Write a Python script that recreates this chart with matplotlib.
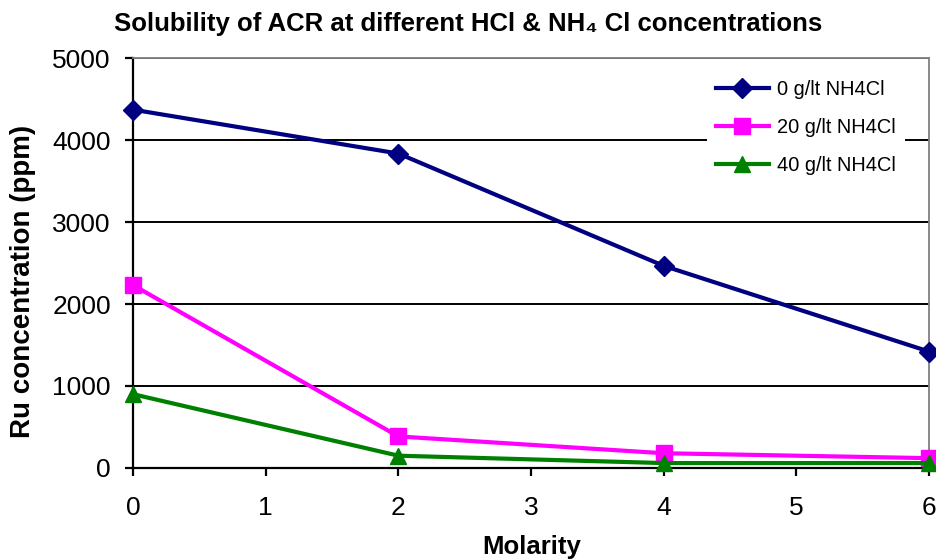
import matplotlib.pyplot as plt

plt.rcParams['font.family'] = ['Liberation Sans', 'DejaVu Sans']

molarity = [0, 2, 4, 6]
ru_0g = [4370, 3835, 2465, 1420]
ru_20g = [2230, 385, 180, 120]
ru_40g = [900, 150, 60, 60]
labels = ['0 g/lt NH4Cl', '20 g/lt NH4Cl', '40 g/lt NH4Cl']

fig = plt.figure(figsize=(9.37, 5.6), dpi=100)
ax = fig.add_axes([0.142, 0.1643, 0.8495, 0.7321])

ax.plot(molarity, ru_0g, color='#000080', lw=3, marker='D', ms=10,
        label=labels[0], clip_on=False, zorder=5)
ax.plot(molarity, ru_20g, color='#FF00FF', lw=3, marker='s', ms=12,
        label=labels[1], clip_on=False, zorder=5)
ax.plot(molarity, ru_40g, color='#008000', lw=3, marker='^', ms=12,
        label=labels[2], clip_on=False, zorder=5)

ax.set_xlim(0, 6)
ax.set_ylim(0, 5000)
ax.set_xticks(range(0, 7))
ax.set_yticks(range(0, 5001, 1000))
ax.yaxis.grid(True, color='black', lw=1.4)
ax.set_axisbelow(True)

for s in ['top', 'right']:
    ax.spines[s].set_color('#808080')
    ax.spines[s].set_linewidth(1.3)
for s in ['left', 'bottom']:
    ax.spines[s].set_color('black')
    ax.spines[s].set_linewidth(1.6)

ax.tick_params(axis='both', direction='out', length=6, width=1.6, labelsize=19)
ax.tick_params(axis='x', pad=14)
ax.tick_params(axis='y', pad=10)

ax.set_xlabel('Molarity', fontsize=18.5, fontweight='bold')
ax.set_ylabel('Ru concentration (ppm)', fontsize=20, fontweight='bold')
ax.xaxis.set_label_coords(0.501, -0.163)
ax.yaxis.set_label_coords(-0.122, 0.456)
fig.text(0.5, 0.958, 'Solubility of ACR at different HCl & NH\u2084 Cl concentrations',
         ha='center', va='center', fontsize=18.5, fontweight='bold')

leg = ax.legend(loc='upper left', bbox_to_anchor=(0.721, 0.968), borderaxespad=0,
                fontsize=14.4, frameon=True, fancybox=False, edgecolor='none',
                framealpha=1, handlelength=2.65, handletextpad=0.4,
                labelspacing=0.95, borderpad=0.45)

fig.savefig('out.png', dpi=100)
